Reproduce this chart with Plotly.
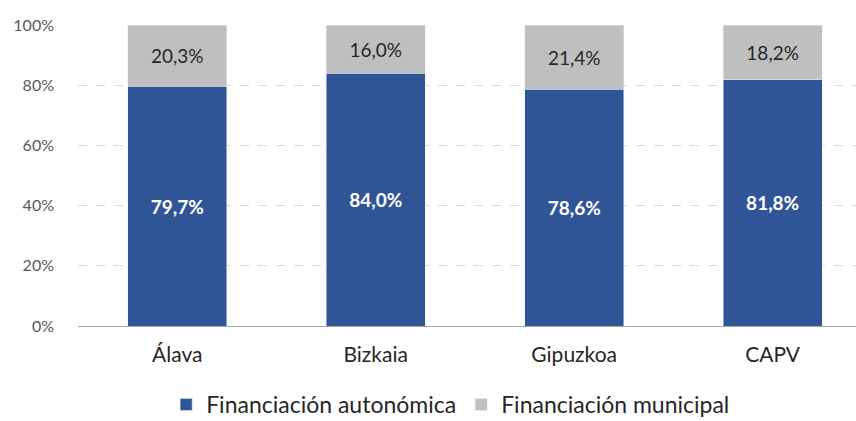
import plotly.graph_objects as go

# ---------------------------------------------------------------------------
# Data
# ---------------------------------------------------------------------------

TERRITORIOS = ["Álava", "Bizkaia", "Gipuzkoa", "CAPV"]
AUTONOMICA = [79.7, 84.0, 78.6, 81.8]
MUNICIPAL = [20.3, 16.0, 21.4, 18.2]
Y_TICKS = [0, 20, 40, 60, 80, 100]
Y_TICK_LABELS = ["0%", "20%", "40%", "60%", "80%", "100%"]

COLORS = {
    "blue": "#2F5597",
    "grey": "#BFBFBF",
    "grid": "#D9D9D9",
    "axis": "#A6A6A6",
    "tick": "#595959",
    "text": "#262626",
}
FONT = "Lato, 'Open Sans', sans-serif"

# figure is a bit taller than the window so the legend sits low like the original
FIG_H = 426


def pct(v):
    return f"{v:.1f}%".replace(".", ",")


fig = go.Figure()

fig.add_trace(go.Bar(
    x=TERRITORIOS,
    y=AUTONOMICA,
    name="Financiación autonómica",
    marker_color=COLORS["blue"],
    text=[f"<b>{pct(v)}</b>" for v in AUTONOMICA],
    textposition="inside",
    insidetextanchor="middle",
    textfont=dict(color="white", size=19, family=FONT),
    width=0.5,
))

fig.add_trace(go.Bar(
    x=TERRITORIOS,
    y=MUNICIPAL,
    name="Financiación municipal",
    marker_color=COLORS["grey"],
    text=[pct(v) for v in MUNICIPAL],
    textposition="inside",
    insidetextanchor="middle",
    textfont=dict(color=COLORS["text"], size=19, family=FONT),
    width=0.5,
))

# plot area: x 78..856, y 25..326
fig.update_layout(
    width=856,
    height=FIG_H,
    barmode="stack",
    paper_bgcolor="white",
    plot_bgcolor="white",
    font=dict(family=FONT, color=COLORS["text"], size=18),
    margin=dict(l=78, r=0, t=25, b=0),
    xaxis=dict(
        range=[-0.5, 3.42],
        showline=True,
        linecolor=COLORS["axis"],
        linewidth=1,
        ticks="",
        tickfont=dict(size=21, color=COLORS["text"]),
        ticklabelstandoff=10,
        automargin=False,
    ),
    yaxis=dict(
        domain=[(FIG_H - 326) / (FIG_H - 25), 1],
        range=[0, 100],
        tickvals=Y_TICKS,
        ticktext=Y_TICK_LABELS,
        showgrid=True,
        gridcolor=COLORS["grid"],
        griddash="dash",
        gridwidth=1,
        zeroline=False,
        tickfont=dict(size=16, color=COLORS["tick"]),
        ticklabelstandoff=23,
        automargin=False,
    ),
    legend=dict(
        orientation="h",
        x=0.479,
        xanchor="center",
        y=0,
        yanchor="bottom",
        font=dict(size=23, color=COLORS["text"]),
        itemwidth=30,
        traceorder="normal",
    ),
)

fig.write_html(
    "out.html",
    config={"displayModeBar": False},
    post_script="document.body.style.margin = '0'; document.body.style.overflow = 'hidden';",
)
